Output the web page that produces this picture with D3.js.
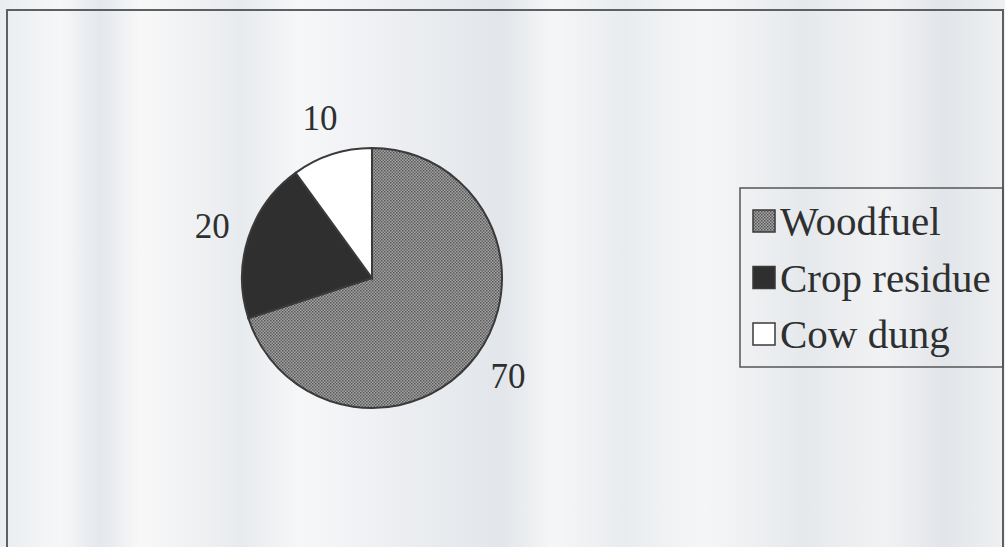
<!DOCTYPE html>
<html>
<head>
<meta charset="utf-8">
<script src="https://cdn.jsdelivr.net/npm/d3@7"></script>
<style>
  body { margin: 0; background: #eef0f2; }
  svg { display: block; }
  .label, .legendText { font-family: "Liberation Serif", "Times New Roman", serif; fill: #2e3030; }
</style>
</head>
<body>
<script>
(function(){

    //chart data
    var categories = ["Woodfuel", "Crop residue", "Cow dung"];
    var values = [70, 20, 10];
    var labels = ["70", "20", "10"];

    var width = 1005,
        height = 547;

    var svg = d3.select("body")
        .append("svg")
        .attr("width", width)
        .attr("height", height);

    var defs = svg.append("defs");

    //faint vertical streaks like the scanned page
    var bg = defs.append("linearGradient").attr("id", "streaks");
    var stops = [[0, "#e9edf0"], [0.06, "#f6f7f8"], [0.1, "#e4e8ec"], [0.14, "#f8f8f8"], [0.24, "#e8ebee"],
                 [0.3, "#f6f7f9"], [0.4, "#eceef1"], [0.5, "#e2e6ea"], [0.55, "#f5f6f7"], [0.62, "#e9ecef"],
                 [0.7, "#f5f6f7"], [0.8, "#e6e9ec"], [0.88, "#f1f2f4"], [0.94, "#e2e5e9"], [1, "#eef0f2"]];
    bg.selectAll("stop").data(stops).enter().append("stop")
        .attr("offset", function(d){ return d[0]; })
        .attr("stop-color", function(d){ return d[1]; });

    svg.append("rect")
        .attr("width", width)
        .attr("height", height)
        .attr("fill", "url(#streaks)");

    //dotted fill for woodfuel
    var pat = defs.append("pattern")
        .attr("id", "dots")
        .attr("patternUnits", "userSpaceOnUse")
        .attr("width", 3)
        .attr("height", 3);
    pat.append("rect").attr("width", 3).attr("height", 3).attr("fill", "#a6a6a6");
    pat.append("rect").attr("width", 1.5).attr("height", 1.5).attr("fill", "#555");
    pat.append("rect").attr("x", 1.5).attr("y", 1.5).attr("width", 1.5).attr("height", 1.5).attr("fill", "#616161");

    var fills = ["url(#dots)", "#2f2f2f", "#ffffff"];

    //chart frame
    svg.append("path")
        .attr("d", "M7," + (height + 2) + "V10H1003V" + (height + 2))
        .attr("fill", "none")
        .attr("stroke", "#5b6063")
        .attr("stroke-width", 2);

    //pie
    var cx = 372, cy = 278, radius = 130;

    var pie = d3.pie().sort(null).value(function(d){ return d; });
    var arcs = pie(values);

    var arc = d3.arc().innerRadius(0).outerRadius(radius);
    var labelArc = d3.arc().innerRadius(168).outerRadius(168);

    var g = svg.append("g").attr("transform", "translate(" + cx + "," + cy + ")");

    g.selectAll(".slice")
        .data(arcs)
        .enter()
        .append("path")
        .attr("class", "slice")
        .attr("d", arc)
        .attr("fill", function(d, i){ return fills[i]; })
        .attr("stroke", "#3a3a3a")
        .attr("stroke-width", 2);

    g.selectAll(".label")
        .data(arcs)
        .enter()
        .append("text")
        .attr("class", "label")
        .attr("x", function(d){ return labelArc.centroid(d)[0]; })
        .attr("y", function(d){ return labelArc.centroid(d)[1]; })
        .attr("text-anchor", "middle")
        .attr("dy", "0.33em")
        .style("font-size", "35px")
        .text(function(d, i){ return labels[i]; });

    //legend
    var legend = svg.append("g").attr("transform", "translate(740,188)");

    legend.append("rect")
        .attr("width", 263)
        .attr("height", 179)
        .attr("fill", "none")
        .attr("stroke", "#555")
        .attr("stroke-width", 1.5);

    var rowY = d3.scalePoint().domain(categories).range([47, 160]);

    var items = legend.selectAll(".item")
        .data(categories)
        .enter()
        .append("g")
        .attr("class", "item")
        .attr("transform", function(d){ return "translate(0," + rowY(d) + ")"; });

    items.append("rect")
        .attr("x", 13)
        .attr("y", -25)
        .attr("width", 22)
        .attr("height", 22)
        .attr("fill", function(d, i){ return fills[i]; })
        .attr("stroke", "#3a3a3a")
        .attr("stroke-width", 1.5);

    items.append("text")
        .attr("class", "legendText")
        .attr("x", 40)
        .attr("y", 0)
        .style("font-size", "41px")
        .text(function(d){ return d; });

})();
</script>
</body>
</html>
